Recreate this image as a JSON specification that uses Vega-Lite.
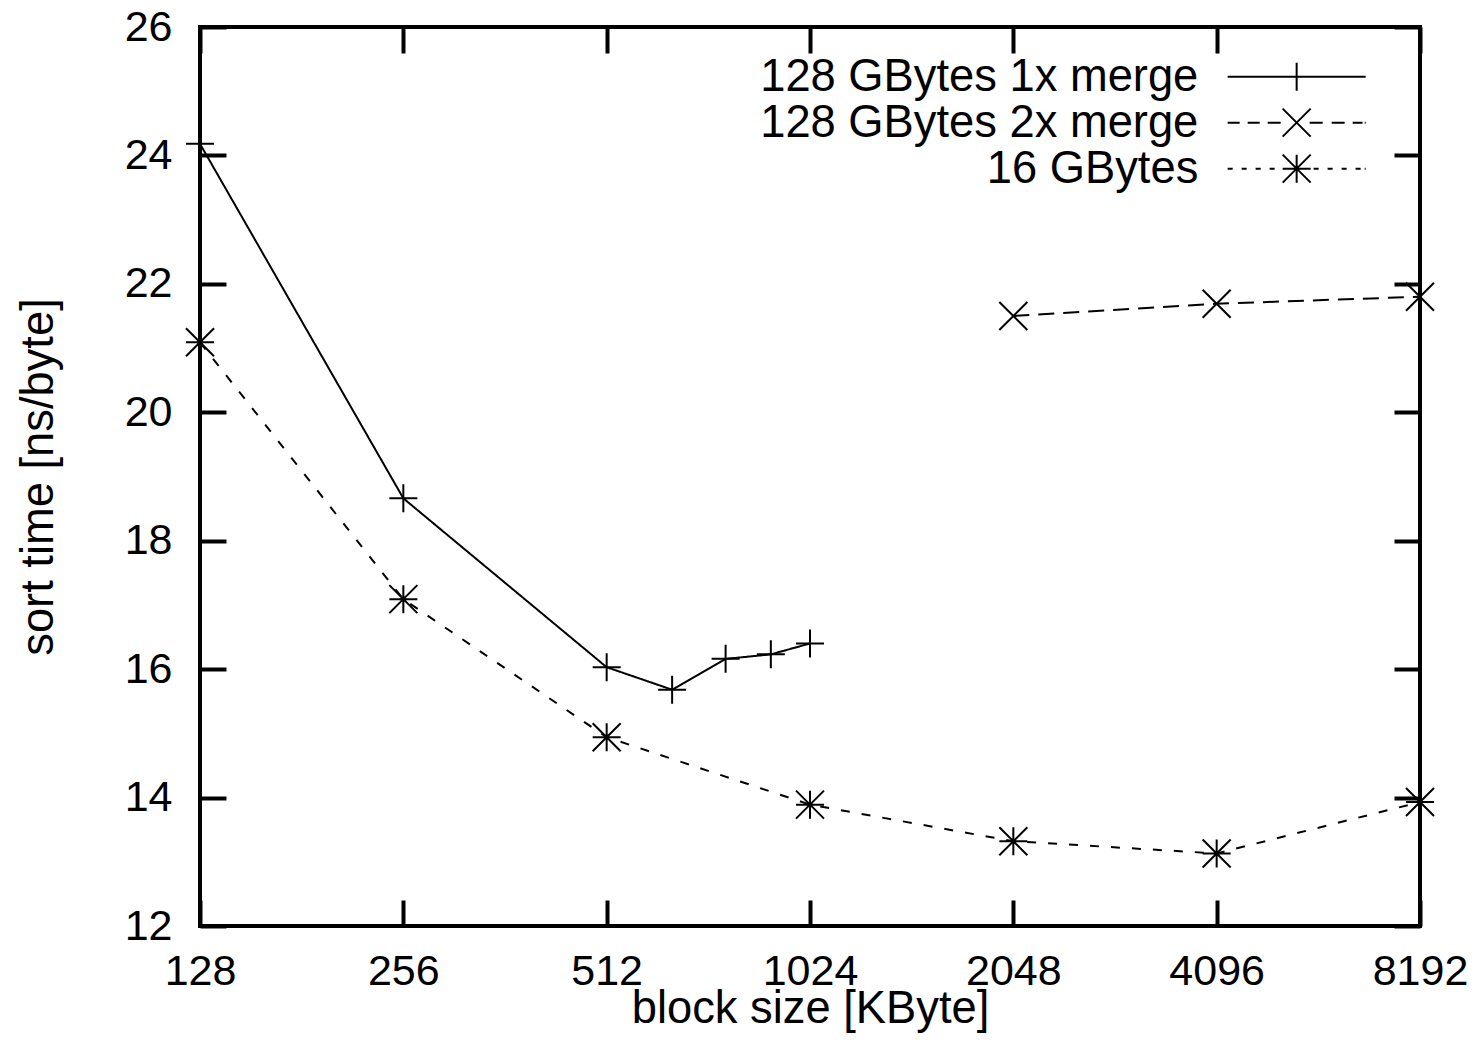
{
  "$schema": "https://vega.github.io/schema/vega-lite/v6.json",
  "autosize": "none",
  "width": 1220,
  "height": 899,
  "padding": {"left": 200, "top": 27, "right": 56, "bottom": 114},
  "background": "white",
  "config": {
    "font": "Liberation Sans",
    "view": {"stroke": "black", "strokeWidth": 4},
    "axis": {
      "domain": false,
      "grid": false,
      "ticks": true,
      "tickSize": -26,
      "tickWidth": 4,
      "tickColor": "black",
      "labelColor": "black",
      "labelFontSize": 43,
      "labelFont": "Liberation Sans",
      "titleFont": "Liberation Sans",
      "titleFontSize": 45.3,
      "titleFontWeight": "normal",
      "titleColor": "black"
    }
  },
  "data": {
    "values": [
      {"series": "128 GBytes 1x merge", "block": 128, "time": 24.18},
      {"series": "128 GBytes 1x merge", "block": 256, "time": 18.66},
      {"series": "128 GBytes 1x merge", "block": 512, "time": 16.03},
      {"series": "128 GBytes 1x merge", "block": 640, "time": 15.68},
      {"series": "128 GBytes 1x merge", "block": 768, "time": 16.16},
      {"series": "128 GBytes 1x merge", "block": 896, "time": 16.23},
      {"series": "128 GBytes 1x merge", "block": 1024, "time": 16.40},
      {"series": "128 GBytes 2x merge", "block": 2048, "time": 21.50},
      {"series": "128 GBytes 2x merge", "block": 4096, "time": 21.69},
      {"series": "128 GBytes 2x merge", "block": 8192, "time": 21.80},
      {"series": "16 GBytes", "block": 128, "time": 21.09},
      {"series": "16 GBytes", "block": 256, "time": 17.09},
      {"series": "16 GBytes", "block": 512, "time": 14.94},
      {"series": "16 GBytes", "block": 1024, "time": 13.89},
      {"series": "16 GBytes", "block": 2048, "time": 13.32},
      {"series": "16 GBytes", "block": 4096, "time": 13.13},
      {"series": "16 GBytes", "block": 8192, "time": 13.93}
    ]
  },
  "layer": [
    {
      "mark": {"type": "line", "color": "black", "strokeWidth": 2, "clip": false},
      "encoding": {
        "x": {
          "field": "block", "type": "quantitative",
          "scale": {"type": "log", "base": 2, "domain": [128, 8192], "nice": false},
          "axis": {"orient": "bottom", "values": [128, 256, 512, 1024, 2048, 4096, 8192], "format": "d", "title": "block size [KByte]", "labelPadding": 50, "titlePadding": -7, "labelFlush": false}
        },
        "y": {
          "field": "time", "type": "quantitative",
          "scale": {"domain": [12, 26], "nice": false, "zero": false},
          "axis": {"orient": "left", "values": [12, 14, 16, 18, 20, 22, 24, 26], "title": "sort time [ns/byte]", "labelPadding": 54, "titlePadding": 62}
        },
        "strokeDash": {
          "field": "series", "type": "nominal",
          "scale": {"domain": ["16 GBytes", "128 GBytes 1x merge", "128 GBytes 2x merge"], "range": [[9, 12], [1, 0], [16, 9]]},
          "legend": null
        }
      }
    },
    {
      "mark": {"type": "point", "filled": false, "stroke": "black", "size": 784, "opacity": 1, "clip": false},
      "encoding": {
        "x": {"field": "block", "type": "quantitative", "axis": null},
        "y": {"field": "time", "type": "quantitative", "axis": null},
        "shape": {
          "field": "series", "type": "nominal",
          "scale": {
            "domain": ["128 GBytes 2x merge", "128 GBytes 1x merge", "16 GBytes"],
            "range": ["M-1,-1L1,1M-1,1L1,-1", "M-1,0H1M0,-1V1", "M-1,0H1M0,-1V1M-1,-1L1,1M-1,1L1,-1"]
          },
          "legend": null
        },
        "strokeWidth": {
          "field": "series", "type": "nominal",
          "scale": {
            "domain": ["128 GBytes 1x merge", "128 GBytes 2x merge", "16 GBytes"],
            "range": [2, 2, 2]
          },
          "legend": {
            "title": null,
            "orient": "none",
            "legendX": 1074,
            "legendY": 27,
            "padding": 0,
            "rowPadding": 0,
            "labelFontSize": 45.3,
            "labelFont": "Liberation Sans",
            "labelColor": "black",
            "labelLimit": 2000,
            "labelAlign": "right",
            "labelOffset": -121,
            "symbolOffset": 0,
            "symbolSize": 784,
            "symbolStrokeColor": "black",
            "symbolFillColor": "transparent",
            "symbolType": {"expr": "datum.value === '128 GBytes 1x merge' ? 'M-4.93,0H4.93M0,-1V1' : datum.value === '128 GBytes 2x merge' ? 'M-4.93,0H-4.07M-3.5,0H-2.64M-2.07,0H-1.14M0.93,0H1.86M2.5,0H3.43M4,0H4.71M4.86,0H4.93M-1,-1L1,1M-1,1L1,-1' : 'M-4.93,0H-4.57M-3.93,0H-3.57M-2.93,0H-2.57M-1.93,0H-1.57M1.21,0H1.57M2.21,0H2.57M3.21,0H3.57M4.21,0H4.57M4.86,0H4.93M-1,0H1M0,-1V1M-1,-1L1,1M-1,1L1,-1'"}
          }
        }
      }
    },
    {
      "mark": {"type": "point", "opacity": 0},
      "encoding": {
        "x": {"field": "block", "type": "quantitative", "axis": {"orient": "top", "values": [128, 256, 512, 1024, 2048, 4096, 8192], "labels": false, "title": null}},
        "y": {"field": "time", "type": "quantitative", "axis": {"orient": "right", "values": [12, 14, 16, 18, 20, 22, 24, 26], "labels": false, "title": null}}
      }
    }
  ],
  "resolve": {"axis": {"x": "independent", "y": "independent"}}
}
